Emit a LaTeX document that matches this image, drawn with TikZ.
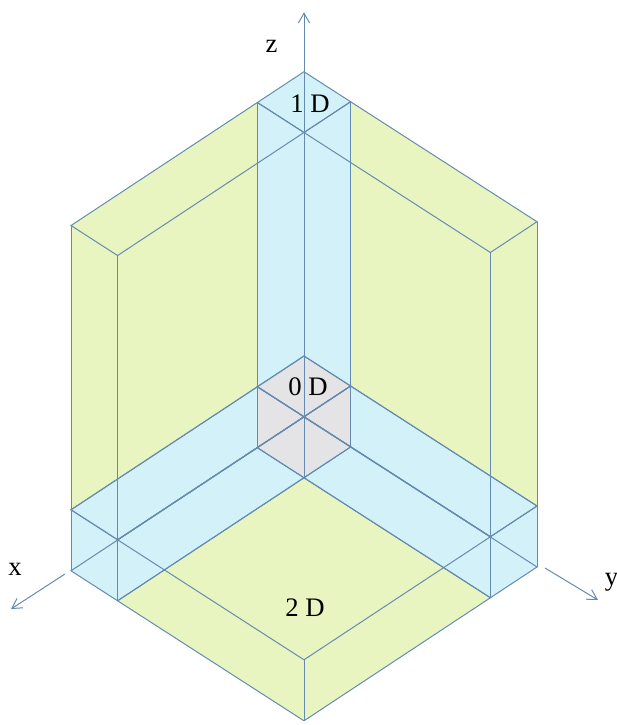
\documentclass[tikz,border=0pt]{standalone}
\usepackage{fontspec}
\setmainfont{Liberation Serif}
\usetikzlibrary{arrows.meta}

\definecolor{planecol}{RGB}{233,245,193}
\definecolor{barcol}{RGB}{210,241,249}
\definecolor{cornercol}{RGB}{228,227,229}
\definecolor{linecol}{RGB}{100,138,176}

\begin{document}
\begin{tikzpicture}[x={(-1.165cm,-0.769cm)},y={(1.165cm,-0.75cm)},z={(0cm,1.525cm)},
  boxline/.style={draw=linecol,line width=0.7pt},
  axis/.style={draw=linecol,line width=0.7pt,-{Straight Barb[length=7pt,width=8pt]}},
  lab/.style={inner sep=0pt,font=\fontsize{19}{22}\selectfont}]
\useasboundingbox (-7.6cm,-7.7cm) rectangle (7.825cm,10.425cm);
% slabs first, then the bars, then the corner cube
\foreach \xa/\xb/\ya/\yb/\za/\zb/\col in {1/5/1/5/0/1/planecol,1/5/0/1/1/5.66/planecol,0/1/1/5/1/5.66/planecol,
    1/5/0/1/0/1/barcol,0/1/1/5/0/1/barcol,0/1/0/1/1/5.66/barcol,0/1/0/1/0/1/cornercol}
  \fill[\col] (\xb,\ya,\za) -- (\xb,\yb,\za) -- (\xa,\yb,\za) -- (\xa,\yb,\zb) -- (\xa,\ya,\zb) -- (\xb,\ya,\zb) -- cycle;
% every edge of every box
\foreach \xa/\xb/\ya/\yb/\za/\zb in {1/5/1/5/0/1,1/5/0/1/1/5.66,0/1/1/5/1/5.66,
    1/5/0/1/0/1,0/1/1/5/0/1,0/1/0/1/1/5.66,0/1/0/1/0/1}{
  \draw[boxline] (\xa,\ya,\za) -- (\xb,\ya,\za) -- (\xb,\yb,\za) -- (\xa,\yb,\za) -- cycle;
  \draw[boxline] (\xa,\ya,\zb) -- (\xb,\ya,\zb) -- (\xb,\yb,\zb) -- (\xa,\yb,\zb) -- cycle;
  \draw[boxline] (\xa,\ya,\za) -- (\xa,\ya,\zb) (\xb,\ya,\za) -- (\xb,\ya,\zb)
    (\xb,\yb,\za) -- (\xb,\yb,\zb) (\xa,\yb,\za) -- (\xa,\yb,\zb);
}
% axes
\coordinate (xs) at (-5.975cm,-3.925cm);
\coordinate (xe) at (-7.325cm,-4.8cm);
\coordinate (ys) at (6.025cm,-3.775cm);
\coordinate (ye) at (7.35cm,-4.575cm);
\coordinate (zs) at (0cm,8.6cm);
\coordinate (ze) at (0cm,10.12cm);
\draw[axis] (xs) -- (xe);
\draw[axis] (ys) -- (ye);
\draw[axis] (zs) -- (ze);
\node[lab] (labx) at (-7.225cm,-3.8cm) {x};
\node[lab] (laby) at (7.69cm,-4.12cm) {y};
\node[lab] (labz) at (-0.81cm,9.26cm) {z};
\node[lab] (lab1d) at (0.15cm,7.825cm) {1 D};
\node[lab] (lab0d) at (0.1cm,0.76cm) {0 D};
\node[lab] (lab2d) at (0.025cm,-4.775cm) {2 D};
\end{tikzpicture}
\end{document}
